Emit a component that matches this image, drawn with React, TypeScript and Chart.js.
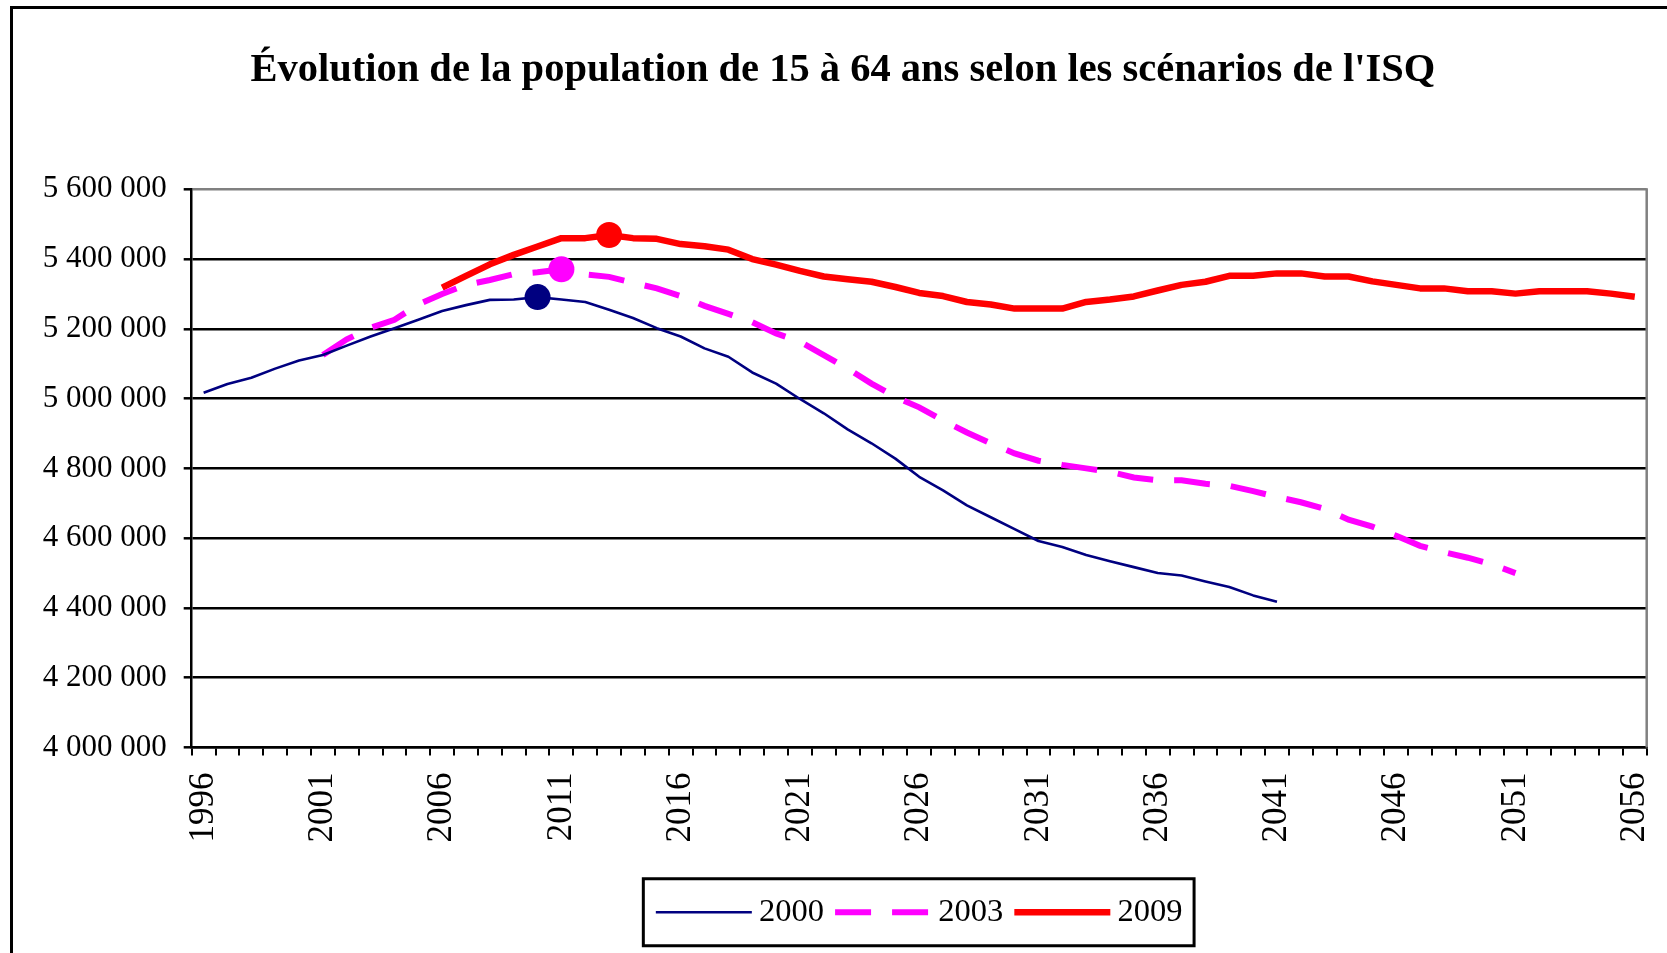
import React, { useEffect, useRef } from 'react';
import { Chart, registerables } from 'chart.js';

Chart.register(...registerables);

const TITLE = "Évolution de la population de 15 à 64 ans selon les scénarios de l'ISQ";

const YEARS = [
  '1996', '1997', '1998', '1999', '2000', '2001', '2002', '2003', '2004', '2005',
  '2006', '2007', '2008', '2009', '2010', '2011', '2012', '2013', '2014', '2015',
  '2016', '2017', '2018', '2019', '2020', '2021', '2022', '2023', '2024', '2025',
  '2026', '2027', '2028', '2029', '2030', '2031', '2032', '2033', '2034', '2035',
  '2036', '2037', '2038', '2039', '2040', '2041', '2042', '2043', '2044', '2045',
  '2046', '2047', '2048', '2049', '2050', '2051', '2052', '2053', '2054', '2055',
  '2056',
];

const LABELED_YEARS = ['1996', '2001', '2006', '2011', '2016', '2021', '2026', '2031', '2036', '2041', '2046', '2051', '2056'];

const SERIES_NAMES = ['2000', '2003', '2009'];
const PEAK_YEARS = ['2010', '2011', '2013'];

// Scénario 2000 : 1996 à 2041
const SCENARIO_2000 = [
  5017000, 5042000, 5060000, 5086000, 5109000, 5125000, 5152000, 5178000, 5202000, 5226000,
  5251000, 5268000, 5283000, 5284000, 5291000, 5284000, 5277000, 5255000, 5231000, 5202000,
  5178000, 5144000, 5120000, 5075000, 5043000, 4999000, 4958000, 4912000, 4872000, 4828000,
  4776000, 4737000, 4694000, 4660000, 4626000, 4592000, 4575000, 4552000, 4534000, 4517000,
  4500000, 4493000, 4476000, 4460000, 4436000, 4418000, null, null, null, null,
  null, null, null, null, null, null, null, null, null, null,
  null,
];

// Scénario 2003 : 2001 à 2051
const SCENARIO_2003 = [
  null, null, null, null, null, 5125000, 5170000, 5203000, 5226000, 5270000,
  5300000, 5326000, 5340000, 5357000, 5362000, 5371000, 5356000, 5349000, 5332000, 5316000,
  5294000, 5266000, 5243000, 5219000, 5187000, 5163000, 5125000, 5086000, 5043000, 5005000,
  4975000, 4937000, 4903000, 4872000, 4843000, 4822000, 4810000, 4800000, 4790000, 4774000,
  4766000, 4766000, 4756000, 4750000, 4735000, 4718000, 4703000, 4684000, 4653000, 4633000,
  4607000, 4578000, 4560000, 4544000, 4525000, 4500000, null, null, null, null,
  null,
];

// Scénario 2009 : 2006 à 2056
const SCENARIO_2009 = [
  null, null, null, null, null, null, null, null, null, null,
  5318000, 5352000, 5385000, 5412000, 5436000, 5460000, 5460000, 5469000, 5460000, 5458000,
  5443000, 5437000, 5427000, 5400000, 5384000, 5366000, 5350000, 5342000, 5335000, 5320000,
  5303000, 5294000, 5277000, 5270000, 5258000, 5258000, 5258000, 5277000, 5284000, 5293000,
  5310000, 5326000, 5335000, 5352000, 5352000, 5359000, 5359000, 5350000, 5350000, 5336000,
  5326000, 5316000, 5316000, 5308000, 5308000, 5301000, 5308000, 5308000, 5308000, 5301000,
  5292000,
];

const Y_MIN = 4000000;
const Y_MAX = 5600000;
const Y_STEP = 200000;

const SERIF = "'Liberation Serif', 'Times New Roman', Times, serif";

function formatThousands(v: number): string {
  return String(Math.round(v)).replace(/\B(?=(\d{3})+(?!\d))/g, ' ');
}

export default function App() {
  const canvasRef = useRef<HTMLCanvasElement | null>(null);

  useEffect(() => {
    document.body.style.margin = '0';
    const canvas = canvasRef.current;
    if (!canvas) return;

    const markerRadii = (peak: string) => YEARS.map((y) => (y === peak ? 13 : 0));

    const framePlugin = {
      id: 'framePlugin',
      beforeDraw(chart: any) {
        const { ctx, width, height } = chart;
        ctx.save();
        ctx.fillStyle = '#ffffff';
        ctx.fillRect(0, 0, width, height);
        ctx.restore();
      },
      afterDraw(chart: any) {
        const { ctx, chartArea, legend, width, height } = chart;
        ctx.save();
        // outer frame
        ctx.strokeStyle = '#000000';
        ctx.lineWidth = 3;
        ctx.setLineDash([]);
        ctx.strokeRect(11.5, 7.5, width + 20, height + 20);
        // plot area right border (grey)
        ctx.strokeStyle = '#808080';
        ctx.lineWidth = 2.5;
        ctx.beginPath();
        ctx.moveTo(chartArea.right, chartArea.top - 1);
        ctx.lineTo(chartArea.right, chartArea.bottom);
        ctx.stroke();
        // legend samples and frame
        const hbs = legend && legend.legendHitBoxes;
        if (hbs && hbs.length) {
          hbs.forEach((hb: any, i: number) => {
            const ds: any = chart.data.datasets[i];
            const y = hb.top + hb.height / 2;
            ctx.beginPath();
            ctx.setLineDash(ds.borderDash || []);
            ctx.lineDashOffset = 0;
            ctx.lineCap = 'butt';
            ctx.lineWidth = ds.borderWidth;
            ctx.strokeStyle = ds.borderColor;
            ctx.moveTo(hb.left, y);
            ctx.lineTo(hb.left + 96, y);
            ctx.stroke();
          });
          ctx.setLineDash([]);
          const first = hbs[0];
          const last = hbs[hbs.length - 1];
          const cy = first.top + first.height / 2;
          ctx.strokeStyle = '#000000';
          ctx.lineWidth = 3;
          ctx.strokeRect(first.left - 12.5, cy - 33.5, last.left + last.width - first.left + 24, 67);
        }
        ctx.restore();
      },
    };

    const chart = new Chart(canvas, {
      type: 'line',
      data: {
        labels: YEARS,
        datasets: [
          {
            label: SERIES_NAMES[0],
            data: SCENARIO_2000,
            borderColor: '#000080',
            backgroundColor: '#000080',
            borderWidth: 2.6,
            pointRadius: markerRadii(PEAK_YEARS[0]),
            pointHoverRadius: markerRadii(PEAK_YEARS[0]),
            pointBorderWidth: 0,
            pointBackgroundColor: '#000080',
            tension: 0,
            borderJoinStyle: 'round',
          },
          {
            label: SERIES_NAMES[1],
            data: SCENARIO_2003,
            borderColor: '#ff00ff',
            backgroundColor: '#ff00ff',
            borderWidth: 6,
            borderDash: [36, 21],
            borderCapStyle: 'butt',
            pointRadius: markerRadii(PEAK_YEARS[1]),
            pointHoverRadius: markerRadii(PEAK_YEARS[1]),
            pointBorderWidth: 0,
            pointBackgroundColor: '#ff00ff',
            tension: 0,
          },
          {
            label: SERIES_NAMES[2],
            data: SCENARIO_2009,
            borderColor: '#ff0000',
            backgroundColor: '#ff0000',
            borderWidth: 6.5,
            pointRadius: markerRadii(PEAK_YEARS[2]),
            pointHoverRadius: markerRadii(PEAK_YEARS[2]),
            pointBorderWidth: 0,
            pointBackgroundColor: '#ff0000',
            tension: 0,
            borderJoinStyle: 'round',
          },
        ],
      },
      options: {
        responsive: false,
        animation: false,
        devicePixelRatio: 1,
        events: [],
        layout: {
          padding: { left: 39, right: 20.3, top: 0, bottom: 14.5 },
        },
        plugins: {
          title: {
            display: true,
            text: TITLE,
            color: '#000000',
            font: { family: SERIF, size: 40.5, weight: 'bold' },
            padding: { top: 46, bottom: 94.7 },
          },
          legend: {
            display: true,
            position: 'bottom',
            fullSize: false,
            labels: {
              color: '#000000',
              font: { family: SERIF, size: 32.5 },
              usePointStyle: true,
              pointStyle: 'line',
              pointStyleWidth: 87,
              boxHeight: 31,
              padding: 11,
              generateLabels: (c: any) =>
                Chart.defaults.plugins.legend.labels.generateLabels(c).map((l: any) => ({
                  ...l,
                  lineWidth: 0,
                  pointStyle: 'line',
                })),
            },
          },
          tooltip: { enabled: false },
        },
        scales: {
          x: {
            type: 'category',
            offset: true,
            grid: {
              display: true,
              drawOnChartArea: false,
              drawTicks: true,
              tickLength: 8,
              offset: true,
              color: '#000000',
              lineWidth: 2,
            },
            border: { display: true, color: '#000000', width: 2.5 },
            ticks: {
              autoSkip: false,
              maxRotation: 90,
              minRotation: 90,
              padding: 17,
              color: '#000000',
              font: { family: SERIF, size: 35 },
              callback: function (this: any, _v: any, index: number) {
                const lab = YEARS[index];
                return LABELED_YEARS.includes(lab) ? lab : '';
              },
            },
            afterFit: (scale: any) => {
              scale.height = 137.5;
              scale.paddingLeft = 0;
              scale.paddingRight = 0;
            },
          },
          y: {
            min: Y_MIN,
            max: Y_MAX,
            grid: {
              display: true,
              drawTicks: true,
              tickLength: 8,
              color: (ctx: any) => (ctx.tick && ctx.tick.value === Y_MAX ? '#808080' : '#000000'),
              tickColor: '#000000',
              lineWidth: 2.6,
              tickWidth: 2.5,
            },
            border: { display: true, color: '#000000', width: 2.5 },
            ticks: {
              stepSize: Y_STEP,
              padding: 17,
              color: '#000000',
              font: { family: SERIF, size: 31 },
              callback: (v: any) => formatThousands(Number(v)),
            },
            afterFit: (scale: any) => {
              scale.width = 152.7;
            },
          },
        },
      },
      plugins: [framePlugin],
    } as any);

    return () => {
      chart.destroy();
    };
  }, []);

  return (
    <div style={{ width: 1667, height: 953, margin: 0, padding: 0 }}>
      <canvas ref={canvasRef} width={1667} height={953} style={{ display: 'block' }} />
    </div>
  );
}
